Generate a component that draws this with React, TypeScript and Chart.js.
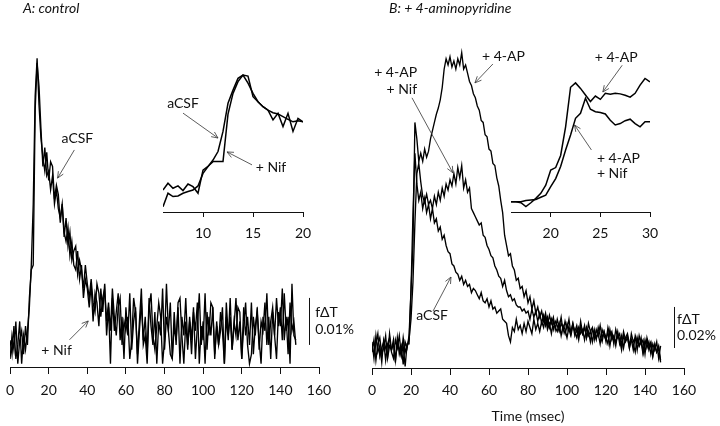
import React, { useEffect, useRef } from 'react';
import { Chart, registerables } from 'chart.js';

Chart.register(...registerables);

const FONT = "Lato, 'DejaVu Sans', sans-serif";

// Sampling of the main traces (msec per point) and of the insets
const MAIN_T0 = 0;
const MAIN_STEP = 1;
const INSET_A_T0 = 6;
const INSET_B_T0 = 16;
const INSET_STEP = 0.5;

// Panel A main traces, fΔT in units of 0.001 %
const A_ACSF = [
  1, -2, 4, -3, 0, 5, -4, 2, -1, 3,
  8, 17, 30, 53, 61, 51, 44, 40, 37, 41,
  35, 39, 38, 31, 34, 32, 26, 30, 23, 27,
  21, 24, 18, 20, 21, 15, 18, 16, 12, 17,
  13, 10, 14, 9, 7, 13, 11, 6, 10, 12,
  5, 9, 3, 12, 6, 2, 8, 10, 0, 5,
  3, 6, -3, 1, 10, 7, -2, 5, 12, 0,
  2, -4, 8, 11, 2, -1, 4, 9, 6, -4,
  1, 13, 3, -2, -3, 7, 0, 9, 10, 2,
  -4, 5, -1, 6, 1, 8, -3, 4, 11, 0,
  5, -4, 7, 2, 9, 8, -2, 4, 0, 3,
  8, -4, 6, 1, 10, -1, 5, 2, 8, 7,
  -3, 4, 9, 0, -4, -2, 6, 2, 8, -1,
  5, 3, 9, 0, 6, -3, 7, 2, 10, 4,
  8, 1, 11, 3, 6, -4, 13, 2, 1,
];
const A_NIF = [
  -3, 2, -1, 5, -4, 1, 3, -2, 4, 0,
  10, 16, 17, 50, 60, 55, 46, 38, 42, 36,
  37, 33, 36, 30, 33, 29, 27, 30, 24, 22,
  25, 19, 22, 17, 16, 20, 14, 17, 10, 14,
  12, 8, 13, 5, 11, 9, 4, 12, 7, 13,
  2, 8, -4, 10, 3, 7, 11, 1, 6, -3,
  8, 2, 11, -1, 5, 8, -4, 3, 9, 1,
  6, -2, 10, 4, 0, 7, -4, 5, 2, 12,
  -1, 6, 3, 9, -3, 4, 1, 8, -4, 6,
  2, 10, 0, 5, -2, 7, 3, 9, -4, 4,
  1, 11, -1, 6, 2, 8, -3, 5, 0, 7,
  3, -4, 9, 2, 6, -1, 4, 10, 1, 5,
  -3, 8, 2, 6, 0, 9, -2, 4, 7, 1,
  -4, 6, 3, 11, 0, 5, 8, 2, -3, 7,
  4, 12, 1, 6, -2, 9, 3, 5, 0,
];

// Panel B main traces, fΔT in units of 0.001 %
const B_4AP = [
  3, -5, 6, -2, 1, -7, 4, 0, -4, 7,
  -1, 2, -6, 5, -3, 1, -8, 3, 0, 6,
  28, 50, 110, 102, 91, 95, 91, 97, 93, 96,
  102, 106, 110, 114, 117, 121, 127, 136, 141, 138,
  142, 137, 140, 136, 141, 138, 144, 136, 138, 134,
  130, 128, 124, 122, 118, 116, 111, 110, 104, 103,
  97, 96, 90, 89, 83, 79, 72, 66, 55, 50,
  45, 46, 40, 38, 33, 34, 29, 30, 25, 28,
  22, 25, 19, 23, 17, 20, 15, 18, 13, 17,
  11, 16, 12, 15, 9, 14, 10, 15, 8, 13,
  9, 14, 7, 12, 8, 11, 6, 13, 7, 10,
  5, 12, 8, 10, 4, 9, 6, 11, 5, 8,
  3, 10, 6, 8, 2, 9, 5, 7, 1, 8,
  4, 6, 0, 7, 3, 5, -1, 6, 2, 4,
  -3, 5, 1, 3, -4, 2, -2, 1, -6,
];
const B_4AP_NIF = [
  -2, 4, -6, 2, 5, -3, 0, 6, -5, 1,
  -1, 4, -7, 3, 0, -4, 5, -2, 1, 4,
  14, 32, 61, 85, 90, 81, 74, 71, 75, 70,
  72, 68, 74, 70, 76, 72, 78, 74, 80, 77,
  82, 79, 85, 80, 88, 83, 89, 78, 82, 76,
  78, 68, 66, 64, 62, 60, 61, 55, 54, 50,
  48, 45, 44, 40, 38, 35, 34, 30, 33, 28,
  25, 26, 23, 24, 21, 20, 20, 18, 19, 17,
  18, 14, 19, 15, 18, 13, 17, 12, 16, 11,
  15, 10, 14, 9, 13, 11, 8, 12, 10, 7,
  12, 9, 6, 11, 8, 5, 10, 7, 9, 4,
  10, 6, 8, 3, 9, 5, 7, 2, 9, 6,
  4, 8, 1, 7, 5, 3, 8, 2, 6, 0,
  5, 7, 2, 4, -1, 6, 3, 1, 5, -2,
  4, 0, 3, -3, 2, -1, 3, -5, 1,
];
const B_ACSF = [
  1, -3, 2, 7, -4, 0, 3, -6, 2, 5,
  -2, -5, 4, 0, 6, -3, 1, -9, 2, 2,
  28, 65, 95, 80, 72, 76, 68, 73, 66, 70,
  63, 68, 61, 63, 57, 59, 53, 55, 50, 47,
  46, 41, 40, 37, 36, 33, 35, 31, 33, 30,
  31, 27, 29, 28, 26, 24, 27, 23, 22, 24,
  20, 23, 19, 20, 17, 18, 19, 14, 13, 12,
  6, 3, 10, 8, 14, 9, 11, 7, 12, 8,
  13, 10, 7, 14, 9, 12, 8, 13, 10, 15,
  9, 12, 7, 13, 10, 8, 12, 6, 11, 9,
  5, 10, 8, 12, 6, 9, 4, 10, 7, 11,
  5, 8, 3, 9, 7, 4, 10, 6, 3, 8,
  5, 2, 9, 4, 6, 1, 7, 4, -1, 6,
  3, 5, 0, 4, 2, -2, 5, 1, 3, -3,
  2, 4, -1, 2, -4, 1, -2, 0, -7,
];

// Insets (0.5 ms sampling)
const INSET_A_ACSF = [
  -7, 0, -1.7, -1.4, 0, 0.9, 1.7, 3.8, 10.3, 13.8, 17.2, 21.6, 32, 46.6, 53.4,
  59.5, 61.2, 57, 51.7, 47.4, 44.8, 43, 41.7, 41, 39.7, 38.3, 37, 37.6, 37,
];
const INSET_A_NIF = [
  1.7, 5.2, 2.6, 3.8, 1.4, 4.8, 3.4, 0, 12, 14, 16.4, 16.4, 16.4, 41, 51.7,
  57.8, 61.2, 60.7, 50, 47.4, 44.8, 43, 38, 41.4, 34.5, 41.4, 32, 38.8, 37,
];
const INSET_B_4AP = [
  0, 0, -1, -4.5, -1, 3, 7.6, 15, 28.8, 31, 42, 68, 104, 108, 103,
  97, 91, 96, 93, 98.5, 97.6, 98.5, 98, 96.7, 95, 98.5, 106, 112, 109,
];
const INSET_B_4AP_NIF = [
  0, 0, 0, 1, 1.5, 2, 4, 6, 13.6, 21, 32, 47, 60.6, 75.8, 80.3,
  94, 84, 81.8, 81, 79.7, 74, 69.7, 71, 73.6, 75, 71, 68, 72.7, 72.7,
];

// Tick labels
const MAIN_TICKS = [0, 20, 40, 60, 80, 100, 120, 140, 160];
const INSET_A_TICKS = [10, 15, 20];
const INSET_B_TICKS = [20, 25, 30];

type Note =
  | { kind: 'text'; x: number; y: number; text: string; align?: CanvasTextAlign }
  | { kind: 'arrow'; x1: number; y1: number; x2: number; y2: number }
  | { kind: 'bar'; x: number; y1: number; y2: number };

const NOTES_A: Note[] = [
  { kind: 'text', x: 34.9, y: 44, text: 'aCSF', align: 'center' },
  { kind: 'arrow', x1: 33.3, y1: 41.5, x2: 24.6, y2: 35.5 },
  { kind: 'text', x: 24.1, y: -1.1, text: '+ Nif', align: 'center' },
  { kind: 'arrow', x1: 30.8, y1: 1.1, x2: 40.5, y2: 5.1 },
  { kind: 'bar', x: 154.9, y1: 0, y2: 10 },
  { kind: 'text', x: 158, y: 6.8, text: 'fΔT', align: 'left' },
  { kind: 'text', x: 158, y: 3.2, text: '0.01%', align: 'left' },
];
const NOTES_B: Note[] = [
  { kind: 'text', x: 56.4, y: 142.4, text: '+ 4-AP', align: 'left' },
  { kind: 'arrow', x1: 62, y1: 138.5, x2: 52.8, y2: 129.3 },
  { kind: 'text', x: 23.1, y: 134.6, text: '+ 4-AP', align: 'right' },
  { kind: 'text', x: 23.1, y: 126.3, text: '+ Nif', align: 'right' },
  { kind: 'arrow', x1: 20.5, y1: 122, x2: 41.5, y2: 85.4 },
  { kind: 'text', x: 30.8, y: 16, text: 'aCSF', align: 'center' },
  { kind: 'arrow', x1: 31.3, y1: 18, x2: 40.5, y2: 34.6 },
  { kind: 'bar', x: 154.9, y1: 0, y2: 20 },
  { kind: 'text', x: 156.4, y: 13.7, text: 'fΔT', align: 'left' },
  { kind: 'text', x: 156.4, y: 5.9, text: '0.02%', align: 'left' },
];
const NOTES_INSET_A: Note[] = [
  { kind: 'text', x: 8, y: 46.7, text: 'aCSF', align: 'center' },
  { kind: 'arrow', x1: 8, y1: 41.5, x2: 11.5, y2: 28.6 },
  { kind: 'text', x: 16.8, y: 13.1, text: '+ Nif', align: 'center' },
  { kind: 'arrow', x1: 14.9, y1: 14.7, x2: 12.4, y2: 21.4 },
];
const NOTES_INSET_B: Note[] = [
  { kind: 'text', x: 26.6, y: 131.5, text: '+ 4-AP', align: 'center' },
  { kind: 'arrow', x1: 27.2, y1: 124, x2: 25.25, y2: 99.7 },
  { kind: 'text', x: 24.65, y: 39.7, text: '+ 4-AP', align: 'left' },
  { kind: 'text', x: 24.65, y: 25.2, text: '+ Nif', align: 'left' },
  { kind: 'arrow', x1: 24.1, y1: 47, x2: 22.4, y2: 69.7 },
];

const notesPlugin = {
  id: 'notes',
  afterDatasetsDraw(chart: any, _args: any, opts: any) {
    const items: Note[] = (opts && opts.items) || [];
    const ctx: CanvasRenderingContext2D = chart.ctx;
    const xs = chart.scales.x;
    const ys = chart.scales.y;
    ctx.save();
    ctx.font = `14px ${FONT}`;
    ctx.fillStyle = '#111';
    ctx.textBaseline = 'middle';
    for (const it of items) {
      if (it.kind === 'text') {
        ctx.textAlign = it.align || 'left';
        ctx.fillText(it.text, xs.getPixelForValue(it.x), ys.getPixelForValue(it.y));
      } else if (it.kind === 'arrow') {
        const x1 = xs.getPixelForValue(it.x1);
        const y1 = ys.getPixelForValue(it.y1);
        const x2 = xs.getPixelForValue(it.x2);
        const y2 = ys.getPixelForValue(it.y2);
        const ang = Math.atan2(y2 - y1, x2 - x1);
        const hl = 7;
        const spread = 0.42;
        ctx.strokeStyle = '#333';
        ctx.lineWidth = 0.8;
        ctx.beginPath();
        ctx.moveTo(x1, y1);
        ctx.lineTo(x2, y2);
        ctx.moveTo(x2 - hl * Math.cos(ang - spread), y2 - hl * Math.sin(ang - spread));
        ctx.lineTo(x2, y2);
        ctx.lineTo(x2 - hl * Math.cos(ang + spread), y2 - hl * Math.sin(ang + spread));
        ctx.stroke();
      } else if (it.kind === 'bar') {
        const x = Math.round(xs.getPixelForValue(it.x)) + 0.5;
        ctx.strokeStyle = '#111';
        ctx.lineWidth = 1;
        ctx.beginPath();
        ctx.moveTo(x, ys.getPixelForValue(it.y1));
        ctx.lineTo(x, ys.getPixelForValue(it.y2));
        ctx.stroke();
      }
    }
    ctx.restore();
  },
};

function toPoints(values: number[], t0: number, step: number) {
  return values.map((v, i) => ({ x: t0 + i * step, y: v }));
}

type PanelSpec = {
  left: number;
  top: number;
  width: number;
  height: number;
  series: { x: number; y: number }[][];
  lineWidth: number;
  xMin: number;
  xMax: number;
  yMin: number;
  yMax: number;
  ticks: number[];
  tickLength: number;
  tickPadding: number;
  tickLineHeight: number;
  padding: { left: number; right: number; top: number; bottom: number };
  title?: string;
  titlePadTop?: number;
  notes: Note[];
};

function Panel({ spec }: { spec: PanelSpec }) {
  const ref = useRef<HTMLCanvasElement | null>(null);
  useEffect(() => {
    if (!ref.current) return;
    const chart = new Chart(ref.current, {
      type: 'line',
      data: {
        datasets: spec.series.map((pts) => ({
          data: pts,
          borderColor: '#000',
          borderWidth: spec.lineWidth,
          pointRadius: 0,
          fill: false,
          tension: 0,
        })),
      },
      options: {
        responsive: false,
        animation: false,
        devicePixelRatio: 1,
        events: [],
        layout: { padding: spec.padding },
        plugins: {
          legend: { display: false },
          tooltip: { enabled: false },
          notes: { items: spec.notes },
        } as any,
        scales: {
          x: {
            type: 'linear',
            position: 'bottom',
            min: spec.xMin,
            max: spec.xMax,
            afterBuildTicks: (scale: any) => {
              scale.ticks = spec.ticks.map((v) => ({ value: v }));
            },
            ticks: {
              color: '#111',
              font: { family: FONT, size: 14, lineHeight: spec.tickLineHeight },
              padding: spec.tickPadding,
              maxRotation: 0,
              autoSkip: false,
            },
            grid: {
              display: true,
              drawOnChartArea: false,
              drawTicks: true,
              tickLength: spec.tickLength,
              color: '#111',
              lineWidth: 1,
            },
            border: { display: true, color: '#111', width: 1 },
            title: spec.title
              ? {
                  display: true,
                  text: spec.title,
                  color: '#111',
                  font: { family: FONT, size: 14, lineHeight: 1.2 },
                  padding: { top: spec.titlePadTop || 0, bottom: 0 },
                }
              : { display: false },
          },
          y: {
            type: 'linear',
            display: false,
            min: spec.yMin,
            max: spec.yMax,
          },
        },
      },
      plugins: [notesPlugin as any],
    });
    return () => chart.destroy();
  }, [spec]);
  return (
    <canvas
      ref={ref}
      width={spec.width}
      height={spec.height}
      style={{ position: 'absolute', left: spec.left, top: spec.top, width: spec.width, height: spec.height }}
    />
  );
}

const PANELS: PanelSpec[] = [
  {
    left: 0, top: 0, width: 360, height: 426,
    series: [toPoints(A_ACSF, MAIN_T0, MAIN_STEP), toPoints(A_NIF, MAIN_T0, MAIN_STEP)],
    lineWidth: 1.35,
    xMin: 0, xMax: 160, yMin: -4.7, yMax: 64.9,
    ticks: MAIN_TICKS, tickLength: 7, tickPadding: 6, tickLineHeight: 20 / 14,
    padding: { left: 7, right: 41, top: 40, bottom: 20 },
    notes: NOTES_A,
  },
  {
    left: 360, top: 0, width: 360, height: 426,
    series: [
      toPoints(B_4AP, MAIN_T0, MAIN_STEP),
      toPoints(B_4AP_NIF, MAIN_T0, MAIN_STEP),
      toPoints(B_ACSF, MAIN_T0, MAIN_STEP),
    ],
    lineWidth: 1.35,
    xMin: 0, xMax: 160, yMin: -9.76, yMax: 150.2,
    ticks: MAIN_TICKS, tickLength: 7, tickPadding: 6, tickLineHeight: 18 / 14,
    padding: { left: 12, right: 36, top: 40, bottom: 1.6 },
    title: 'Time (msec)', titlePadTop: 2.6,
    notes: NOTES_B,
  },
  {
    left: 150, top: 50, width: 210, height: 200,
    series: [toPoints(INSET_A_ACSF, INSET_A_T0, INSET_STEP), toPoints(INSET_A_NIF, INSET_A_T0, INSET_STEP)],
    lineWidth: 1.5,
    xMin: 6, xMax: 20, yMin: -9.7, yMax: 69,
    ticks: INSET_A_TICKS, tickLength: 5, tickPadding: 6, tickLineHeight: 20 / 14,
    padding: { left: 13, right: 57, top: 10, bottom: 1 },
    notes: NOTES_INSET_A,
  },
  {
    left: 490, top: 40, width: 230, height: 210,
    series: [toPoints(INSET_B_4AP, INSET_B_T0, INSET_STEP), toPoints(INSET_B_4AP_NIF, INSET_B_T0, INSET_STEP)],
    lineWidth: 1.5,
    xMin: 16, xMax: 30, yMin: -9.4, yMax: 128.8,
    ticks: INSET_B_TICKS, tickLength: 5, tickPadding: 6, tickLineHeight: 20 / 14,
    padding: { left: 21, right: 70, top: 20, bottom: 1 },
    notes: NOTES_INSET_B,
  },
];

export default function App() {
  return (
    <div
      style={{
        position: 'absolute',
        left: 0,
        top: 0,
        width: 720,
        height: 426,
        background: '#fff',
        overflow: 'hidden',
      }}
    >
      {PANELS.map((p, i) => (
        <Panel key={i} spec={p} />
      ))}
      <div style={{ position: 'absolute', left: 23, top: 0, font: `italic 14px ${FONT}`, lineHeight: '16px', color: '#111' }}>
        A: control
      </div>
      <div style={{ position: 'absolute', left: 389, top: 0, font: `italic 14px ${FONT}`, lineHeight: '16px', color: '#111' }}>
        B: + 4-aminopyridine
      </div>
    </div>
  );
}
